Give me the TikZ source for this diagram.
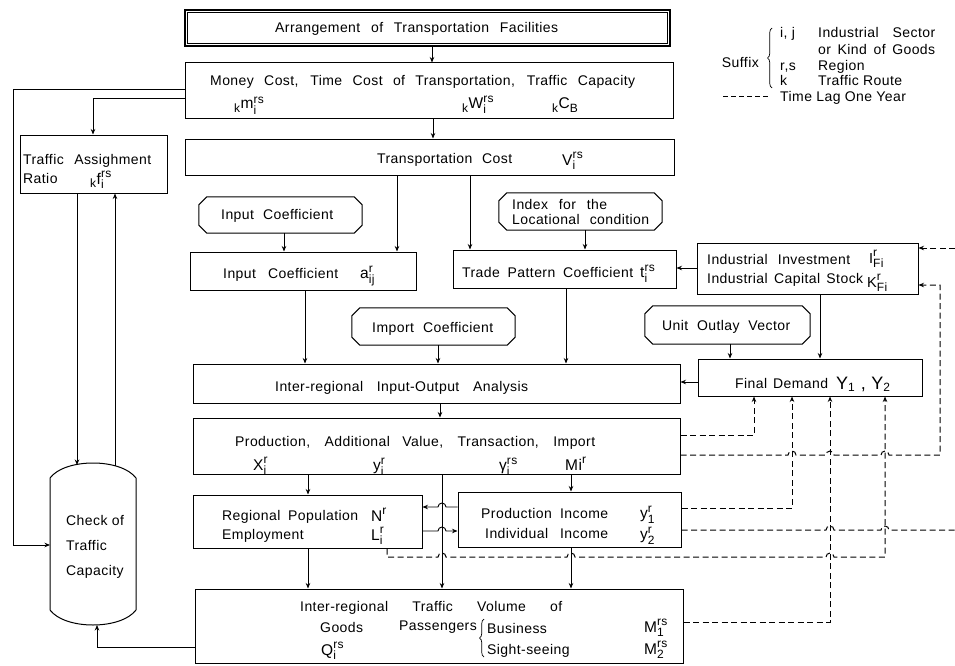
\documentclass[tikz,border=0pt]{standalone}
\usepackage{amsmath}
\usepackage{fontspec}
\setmainfont{Liberation Sans}[LetterSpace=3]
\usetikzlibrary{arrows.meta,fit,decorations.pathreplacing}
\newcommand\scr[1]{\text{\fontsize{12}{12}\selectfont #1}}
\newcommand\symb[3]{$\text{#1}_{\scr{#2}}^{\scr{#3}}$}
\newcommand\ksymb[3]{${}_{\scr{k}}\text{#1}_{\scr{#2}}^{\scr{#3}}$}
\newcommand\spanbox[2]{\makebox[#1pt][s]{#2}}
\newcommand\chamf[1]{\draw[lw] ([xshift=8pt]#1.north west) -- ([xshift=-8pt]#1.north east) -- ([yshift=-8pt]#1.north east) -- ([yshift=8pt]#1.south east) -- ([xshift=-8pt]#1.south east) -- ([xshift=8pt]#1.south west) -- ([yshift=8pt]#1.south west) -- ([yshift=-8pt]#1.north west) -- cycle;}
\tikzset{
  lw/.style={line width=1pt, black},
  box/.style={draw=black, line width=1pt, inner sep=0pt, rectangle},
  ghost/.style={inner sep=0pt, rectangle},
  lbl/.style={inner sep=0pt, anchor=base west, font=\fontsize{14}{16}\selectfont},
  sym/.style={inner sep=0pt, anchor=base west, font=\fontsize{15.5}{17}\selectfont},
  arr/.style={line width=0.9pt, black, -{Stealth[length=5.5pt,width=4.5pt]}},
  dsh/.style={line width=1pt, black, dash pattern=on 6pt off 3.5pt},
  darr/.style={dsh, -{Stealth[length=5.5pt,width=4.5pt]}},
  brc/.style={decorate, decoration={brace,amplitude=4.5pt}, line width=0.7pt, black},
}
\begin{document}
\begin{tikzpicture}[x=1pt,y=-1pt]
\fill[white] (0,0) rectangle (955,666);
\useasboundingbox (0,0) rectangle (955,666);

% ---------- boxes ----------
\node[box, line width=1.1pt, fit={(185,10) (670,46)}] (A) {};
\draw[line width=0.7pt] ([xshift=2.8pt,yshift=-2.8pt]A.north west) rectangle ([xshift=-2.8pt,yshift=2.8pt]A.south east);
\node[box, fit={(185,63) (673,119)}] (B) {};
\node[box, fit={(185,139) (674,175)}] (C) {};
\node[box, fit={(20,135) (167,193)}] (TA) {};
\node[ghost, fit={(199,197) (362,233)}] (inh) {};
\node[ghost, fit={(499,193) (662,230)}] (idx) {};
\node[box, fit={(190,252) (416,290)}] (IC) {};
\node[box, fit={(453,250) (676,288)}] (TP) {};
\node[box, fit={(697,243) (918,294)}] (II) {};
\node[ghost, fit={(352,308) (515,345)}] (imh) {};
\node[ghost, fit={(645,306) (810,344)}] (uoh) {};
\node[box, fit={(193,364) (680,403)}] (IO) {};
\node[box, fit={(698,359) (922,396)}] (FD) {};
\node[box, fit={(193,418) (680,474)}] (PR) {};
\node[box, fit={(193,495) (422,548)}] (RP) {};
\node[box, fit={(458,492) (681,547)}] (PI) {};
\node[box, fit={(195,589) (683,663)}] (TV) {};
\chamf{inh}
\chamf{idx}
\chamf{imh}
\chamf{uoh}

% cylinder
\node[ghost, fit={(50,463) (136,625)}] (cyl) {};
\draw[lw] (50,478) .. controls (65,458) and (121,458) .. (136,478) -- (136,610) .. controls (121,630) and (65,630) .. (50,610) -- cycle;
\coordinate (cyT1) at (77,465);
\coordinate (cyT2) at (115,466);
\coordinate (cyL) at (50,545);
\coordinate (cyB) at (97,625);

% ---------- texts ----------
\node[lbl] (tA) at (275,33) {\spanbox{283}{Arrangement of Transportation Facilities}};
\node[lbl] (tB1) at (210,86) {\spanbox{425}{Money Cost, Time Cost of Transportation, Traffic Capacity}};
\node[sym] (tB2) at (234,109) {\ksymb{m}{i}{rs}};
\node[sym] (tB3) at (462,109) {\ksymb{W}{i}{rs}};
\node[sym] (tB4) at (552,109) {${}_{\scr{k}}\text{C}_{\scr{B}}$};
\node[lbl] (tC1) at (377,163) {\spanbox{135}{Transportation Cost}};
\node[sym] (tC2) at (562,165) {\symb{V}{i}{rs}};
\node[lbl] (tTA1) at (23,164) {\spanbox{128}{Traffic Assighment}};
\node[lbl] (tTA2) at (23,183) {Ratio};
\node[sym] (tTA3) at (90,184) {\ksymb{f}{i}{rs}};
\node[lbl] (tinh) at (221,219) {\spanbox{112}{Input Coefficient}};
\node[lbl] (tidx1) at (512,209) {\spanbox{95}{Index for the}};
\node[lbl] (tidx2) at (512,224) {\spanbox{137}{Locational condition}};
\node[lbl] (tIC1) at (223,278) {\spanbox{115}{Input Coefficient}};
\node[sym] (tIC2) at (360,278) {\symb{a}{ij}{r}};
\node[lbl] (tTP1) at (462,277) {\spanbox{171}{Trade Pattern Coefficient}};
\node[sym] (tTP2) at (640,277) {\symb{t}{i}{rs}};
\node[lbl] (tII1) at (707,264) {\spanbox{143}{Industrial Investment}};
\node[lbl] (tII2) at (707,283) {\spanbox{156}{Industrial Capital Stock}};
\node[sym, font=\fontsize{14.5}{16}\selectfont] (tII3) at (869,263) {\symb{I}{Fi}{r}};
\node[sym, font=\fontsize{14.5}{16}\selectfont] (tII4) at (867,287) {\symb{K}{Fi}{r}};
\node[lbl] (timh) at (372,332) {\spanbox{121}{Import Coefficient}};
\node[lbl] (tuoh) at (662,330) {\spanbox{128}{Unit Outlay Vector}};
\node[lbl] (tIO) at (275,391) {\spanbox{253}{Inter-regional Input-Output Analysis}};
\node[lbl] (tFD1) at (735,388) {\spanbox{93}{Final Demand}};
\node[sym, font=\fontsize{18}{20}\selectfont] (tFD2) at (836,389) {Y$_{\scr{1}}$ , Y$_{\scr{2}}$};
\node[lbl] (tPR1) at (235,446) {\spanbox{360}{Production, Additional Value, Transaction, Import}};
\node[sym] (tPR2) at (253,470) {\symb{X}{i}{r}};
\node[sym] (tPR3) at (373,470) {\symb{y}{i}{r}};
\node[sym] (tPR4) at (499,470) {\symb{γ}{i}{rs}};
\node[sym] (tPR5) at (565,470) {$\text{Mi}^{\scr{r}}$};
\node[lbl] (tRP1) at (222,520) {\spanbox{136}{Regional Population}};
\node[lbl] (tRP2) at (222,539) {Employment};
\node[sym] (tRP3) at (371,521) {\symb{N}{}{r}};
\node[sym] (tRP4) at (371,540) {\symb{L}{i}{r}};
\node[lbl] (tPI1) at (481,518) {\spanbox{127}{Production Income}};
\node[lbl] (tPI2) at (485,538) {\spanbox{123}{Individual Income}};
\node[sym] (tPI3) at (640,518) {\symb{y}{1}{r}};
\node[sym] (tPI4) at (640,539) {\symb{y}{2}{r}};
\node[lbl] (tTV1) at (300,611) {\spanbox{262}{Inter-regional Traffic Volume of}};
\node[lbl] (tTV2) at (320,632) {Goods};
\node[sym] (tTV3) at (321,655) {\symb{Q}{i}{rs}};
\node[lbl, anchor=base east] (tTV4) at (477,630) {Passengers};
\node[lbl] (tTV5) at (487,633) {Business};
\node[lbl] (tTV6) at (487,654) {Sight-seeing};
\node[sym] (tTV7) at (644,632) {\symb{M}{1}{rs}};
\node[sym] (tTV8) at (644,654) {\symb{M}{2}{rs}};
\draw[brc] (484,657) -- (484,619);
\node[lbl] (tcy1) at (66,525) {Check of};
\node[lbl] (tcy2) at (66,550) {Traffic};
\node[lbl] (tcy3) at (66,575) {Capacity};

% legend
\node[lbl, anchor=base east] (lg0) at (759,68) {Suffix};
\draw[brc] (772,88) -- (772,28);
\node[lbl] (lg1) at (780,38) {i, j};
\node[lbl] (lg2) at (818,38) {\spanbox{117}{Industrial Sector}};
\node[lbl] (lg3) at (818,55) {\spanbox{117}{or Kind of Goods}};
\node[lbl] (lg4) at (780,71) {r,s};
\node[lbl] (lg5) at (818,71) {Region};
\node[lbl] (lg6) at (780,86) {k};
\node[lbl] (lg7) at (818,86) {Traffic Route};
\coordinate (lgd1) at (723,97);
\coordinate (lgd2) at (768,97);
\draw[dsh, dash pattern=on 5pt off 3pt] (lgd1) -- (lgd2);
\node[lbl] (lg8) at (780,102) {Time Lag One Year};

% ---------- solid connectors ----------
\draw[arr] (A.south -| 432,0) -- (B.north -| 432,0);
\draw[arr] (B.south -| 433,0) -- (C.north -| 433,0);
\draw[arr] (B.west |- 0,89) -- (13,89) -- (13,545) -- (cyL);
\draw[arr] (B.west |- 0,98) -- (93,98) -- (TA.north -| 93,0);
\draw[arr] (TA.south -| 77,0) -- (cyT1);
\draw[arr] (cyT2) -- (TA.south -| 115,0);
\draw[arr] (C.south -| 397,0) -- (IC.north -| 397,0);
\draw[arr] (C.south -| 470,0) -- (TP.north -| 470,0);
\draw[arr] (inh.south -| 284,0) -- (IC.north -| 284,0);
\draw[arr] (idx.south -| 585,0) -- (TP.north -| 585,0);
\draw[arr] (II.west |- 0,268) -- (TP.east |- 0,268);
\draw[arr] (II.south -| 820,0) -- (FD.north -| 820,0);
\draw[arr] (uoh.south -| 730,0) -- (FD.north -| 730,0);
\draw[arr] (IC.south -| 305,0) -- (IO.north -| 305,0);
\draw[arr] (imh.south -| 438,0) -- (IO.north -| 438,0);
\draw[arr] (TP.south -| 566,0) -- (IO.north -| 566,0);
\draw[arr] (FD.west |- 0,382) -- (IO.east |- 0,382);
\draw[arr] (IO.south -| 440,0) -- (PR.north -| 440,0);
\draw[arr] (PR.south -| 308,0) -- (RP.north -| 308,0);
\draw[arr] (PR.south -| 571,0) -- (PI.north -| 571,0);
\draw[arr] (PR.south -| 442,0) -- (TV.north -| 442,0);
\draw[arr] (PI.west |- 0,507) -- (446,507) arc[start angle=0,end angle=180,radius=4pt] -- (RP.east |- 0,507);
\draw[arr] (RP.east |- 0,531) -- (438,531) arc[start angle=180,end angle=0,radius=4pt] -- (PI.west |- 0,531);
\draw[arr] (RP.south -| 308,0) -- (TV.north -| 308,0);
\draw[arr] (PI.south -| 571,0) -- (TV.north -| 571,0);
\draw[arr] (TV.west |- 0,647) -- (97,647) -- (cyB);

% ---------- dashed connectors ----------
\coordinate (e1) at (955,248);
\coordinate (e2) at (955,530);
\draw[darr] (e1) -- (II.east |- 0,248);
\draw[darr] (PR.east |- 0,435) -- (754,435) -- (FD.south -| 754,0);
\draw[darr] (PR.east |- 0,455) -- (788,455) arc[start angle=180,end angle=0,radius=4pt]
   -- (826,455) arc[start angle=180,end angle=0,radius=4pt]
   -- (881,455) arc[start angle=180,end angle=0,radius=4pt]
   -- (940,455) -- (940,285) -- (II.east |- 0,285);
\draw[darr] (PI.east |- 0,508) -- (792,508) -- (FD.south -| 792,0);
\draw[dsh] (PI.east |- 0,530) -- (826,530) arc[start angle=180,end angle=0,radius=4pt]
   -- (881,530) arc[start angle=180,end angle=0,radius=4pt] -- (e2);
\draw[darr] (RP.south -| 387,0) -- (387,557) -- (438,557) arc[start angle=180,end angle=0,radius=4pt]
   -- (567,557) arc[start angle=180,end angle=0,radius=4pt]
   -- (826,557) arc[start angle=180,end angle=0,radius=4pt]
   -- (885,557) -- (FD.south -| 885,0);
\draw[darr] (TV.east |- 0,622) -- (830,622) -- (FD.south -| 830,0);
\end{tikzpicture}
\end{document}
